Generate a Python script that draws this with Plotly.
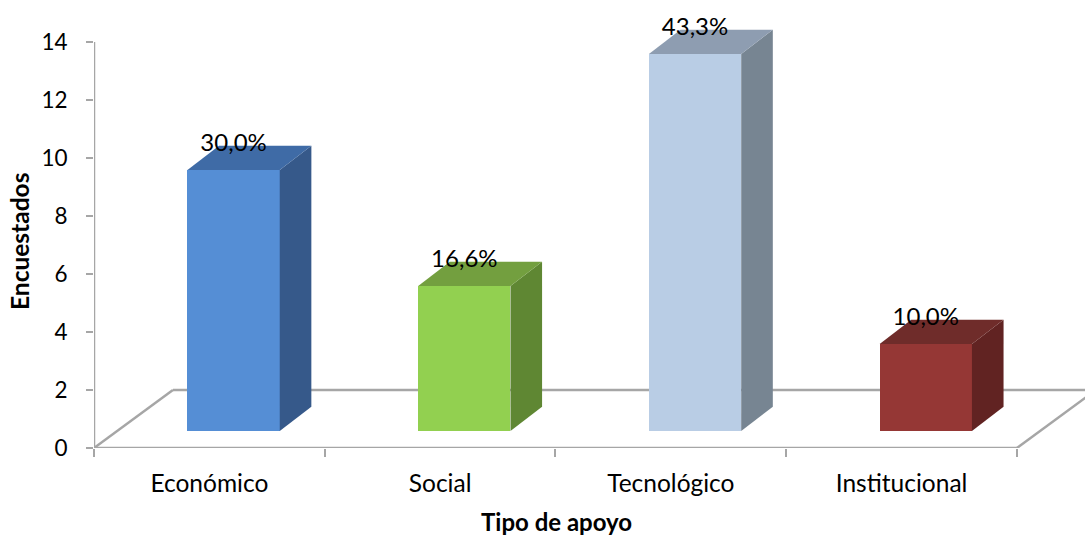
import plotly.graph_objects as go

categorias = ["Económico", "Social", "Tecnológico", "Institucional"]
encuestados = [9, 5, 13, 3]
porcentajes = ["30,0%", "16,6%", "43,3%", "10,0%"]
y_ticks = [0, 2, 4, 6, 8, 10, 12, 14]

color_frente = ["#558ED5", "#92D050", "#B9CDE5", "#953735"]
color_lado = ["#36598A", "#5F8733", "#778592", "#612322"]
color_tapa = ["#3F6BA6", "#739F3F", "#8E9DB1", "#6F2C2A"]

# fake 3d depth, in axis units
base = 0.59
dx = 0.137
dy = 0.83
ancho = 0.40
centro = 0.605
piso_dx = 0.342
piso_dy = 2
x_max = 4.295
y_max = 15.448
gris = "#A6A6A6"
fuente = "Lato"
xs = [i + centro for i in range(len(encuestados))]

fig = go.Figure()

for i, v in enumerate(encuestados):
    izq = xs[i] - ancho / 2
    der = xs[i] + ancho / 2
    arriba = base + v
    # side face
    fig.add_trace(go.Scatter(x=[der, der + dx, der + dx, der, der],
                             y=[base, base + dy, arriba + dy, arriba, base],
                             mode="lines", fill="toself", fillcolor=color_lado[i],
                             line=dict(width=0)))
    # top face
    fig.add_trace(go.Scatter(x=[izq, izq + dx, der + dx, der, izq],
                             y=[arriba, arriba + dy, arriba + dy, arriba, arriba],
                             mode="lines", fill="toself", fillcolor=color_tapa[i],
                             line=dict(width=0)))

fig.add_trace(go.Bar(x=xs, y=encuestados, base=base, width=ancho,
                     marker=dict(color=color_frente, line=dict(width=0))))

fig.add_trace(go.Scatter(x=xs, y=[v + base + 0.86 for v in encuestados],
                         mode="text", text=porcentajes,
                         textfont=dict(family=fuente, size=24, color="#000000")))

# only here so the tick axis gets drawn
fig.add_trace(go.Scatter(x=[0], y=[None], xaxis="x2", mode="lines", hoverinfo="skip"))

# floor of the 3d box and the value axis line, under the bars
linea = dict(color=gris, width=2.5)
formas = [
    dict(type="line", x0=0, y0=0, x1=piso_dx, y1=piso_dy),
    dict(type="line", x0=piso_dx, y0=piso_dy, x1=x_max, y1=piso_dy),
    dict(type="line", x0=0, y0=0, x1=4, y1=0),
    dict(type="line", x0=4, y0=0, x1=4 + piso_dx, y1=piso_dy),
    dict(type="line", x0=0, y0=0, x1=0, y1=14),
]
for f in formas:
    f.update(xref="x", yref="y", layer="below", line=linea)

fig.update_layout(
    width=1085, height=536, autosize=False, showlegend=False,
    margin=dict(l=94, r=0, t=0, b=88, pad=0),
    paper_bgcolor="white", plot_bgcolor="white",
    font=dict(family=fuente, size=22, color="#000000"),
    bargap=0,
    shapes=formas,
    xaxis=dict(range=[0, x_max], tickvals=[i + 0.5 for i in range(4)], ticktext=categorias,
               ticks="", showgrid=False, zeroline=False, showline=False,
               tickfont=dict(family=fuente, size=24.5), ticklabelstandoff=18),
    xaxis2=dict(range=[0, x_max], overlaying="x", anchor="y", side="bottom", tickvals=[0, 1, 2, 3, 4],
                showticklabels=False, ticks="outside", ticklen=8, tickwidth=2, tickcolor=gris,
                showgrid=False, zeroline=False, showline=False),
    yaxis=dict(range=[0, y_max], tickvals=y_ticks, ticks="outside", ticklen=7, tickwidth=2, tickcolor=gris,
               showline=False, showgrid=False, zeroline=False,
               tickfont=dict(family=fuente, size=22.5), ticklabelstandoff=14),
    annotations=[
        dict(text="<b>Tipo de apoyo</b>", xref="paper", yref="paper", x=(556 - 94) / 991, y=(448 - 521) / 448,
             xanchor="center", yanchor="middle", showarrow=False, font=dict(family=fuente, size=24)),
        dict(text="<b>Encuestados</b>", xref="paper", yref="paper", x=(19 - 94) / 991, y=(448 - 242) / 448,
             xanchor="center", yanchor="middle", showarrow=False, textangle=-90,
             font=dict(family=fuente, size=24.5)),
    ],
)

fig.write_html("out.html", config=dict(displayModeBar=False),
               post_script="document.body.style.margin='0';")
